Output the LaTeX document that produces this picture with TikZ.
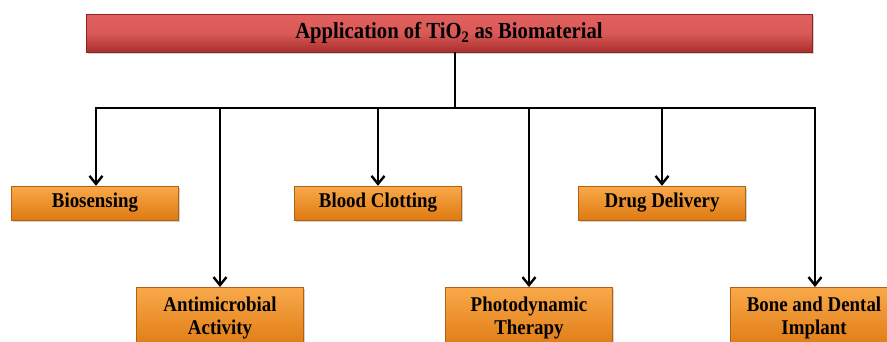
\documentclass[tikz,border=0pt]{standalone}
\usepackage{fontspec}
\setmainfont{Liberation Serif}
\usetikzlibrary{shadows,arrows.meta}
\definecolor{redtop}{HTML}{E2615F}
\definecolor{redbot}{HTML}{A92F2C}
\definecolor{ortop}{HTML}{F9A94A}
\definecolor{orbot}{HTML}{DE7A12}
\tikzset{
  titlebox/.style={rectangle, draw=redbot!80!black, line width=0.4pt, top color=redtop, bottom color=redbot, middle color=redtop!85!redbot,
    drop shadow={shadow xshift=1.5pt, shadow yshift=-2pt, opacity=0.35}, minimum width=726pt, minimum height=38pt, inner sep=0pt,
    font=\fontsize{23}{25}\selectfont\bfseries},
  appbox/.style={rectangle, draw=orbot!80!black, line width=0.4pt, top color=ortop, bottom color=orbot,
    drop shadow={shadow xshift=1.5pt, shadow yshift=-2pt, opacity=0.35}, minimum width=167pt, inner sep=0pt, align=center,
    font=\fontsize{21}{23}\selectfont\bfseries},
  conn/.style={line width=2.8pt, black},
  arr/.style={conn, -{Straight Barb[length=8pt,width=13pt,line width=2.4pt]}}
}
\newcommand{\nw}[1]{\scalebox{0.9}[1]{#1}}
\begin{document}
\begin{tikzpicture}[x=1pt,y=-1pt]
\useasboundingbox (0,0) rectangle (887,341);
\clip (0,0) rectangle (887,341);
\node[titlebox] (title) at (449,33) {\nw{Application of TiO\textsubscript{2} as Biomaterial}};
\coordinate (hub) at (455,108);
\coordinate (hl) at (96,108);
\coordinate (hr) at (815,108);
\node[appbox, minimum height=34pt] (bio) at (95,203) {\nw{Biosensing}};
\node[appbox, minimum height=34pt] (blood) at (378,203) {\nw{Blood Clotting}};
\node[appbox, minimum height=34pt] (drug) at (662,203) {\nw{Drug Delivery}};
\node[appbox, minimum height=62pt, anchor=north] (anti) at (220,287) {\nw{Antimicrobial}\\\nw{Activity}};
\node[appbox, minimum height=62pt, anchor=north] (photo) at (529,287) {\nw{Photodynamic}\\\nw{Therapy}};
\node[appbox, minimum height=62pt, anchor=north] (bone) at (814,287) {\nw{Bone and Dental}\\\nw{Implant}};
\draw[conn] (title.south -| hub) -- (hub);
\draw[conn, line cap=rect] (hl) -- (hr);
\draw[arr] (hl) -- (bio.north -| hl);
\draw[arr] (hl -| anti.north) -- (anti.north);
\draw[arr] (hl -| blood.north) -- (blood.north);
\draw[arr] (hl -| photo.north) -- (photo.north);
\draw[arr] (hl -| drug.north) -- (drug.north);
\draw[arr] (hr) -- (bone.north -| hr);
\end{tikzpicture}
\end{document}
